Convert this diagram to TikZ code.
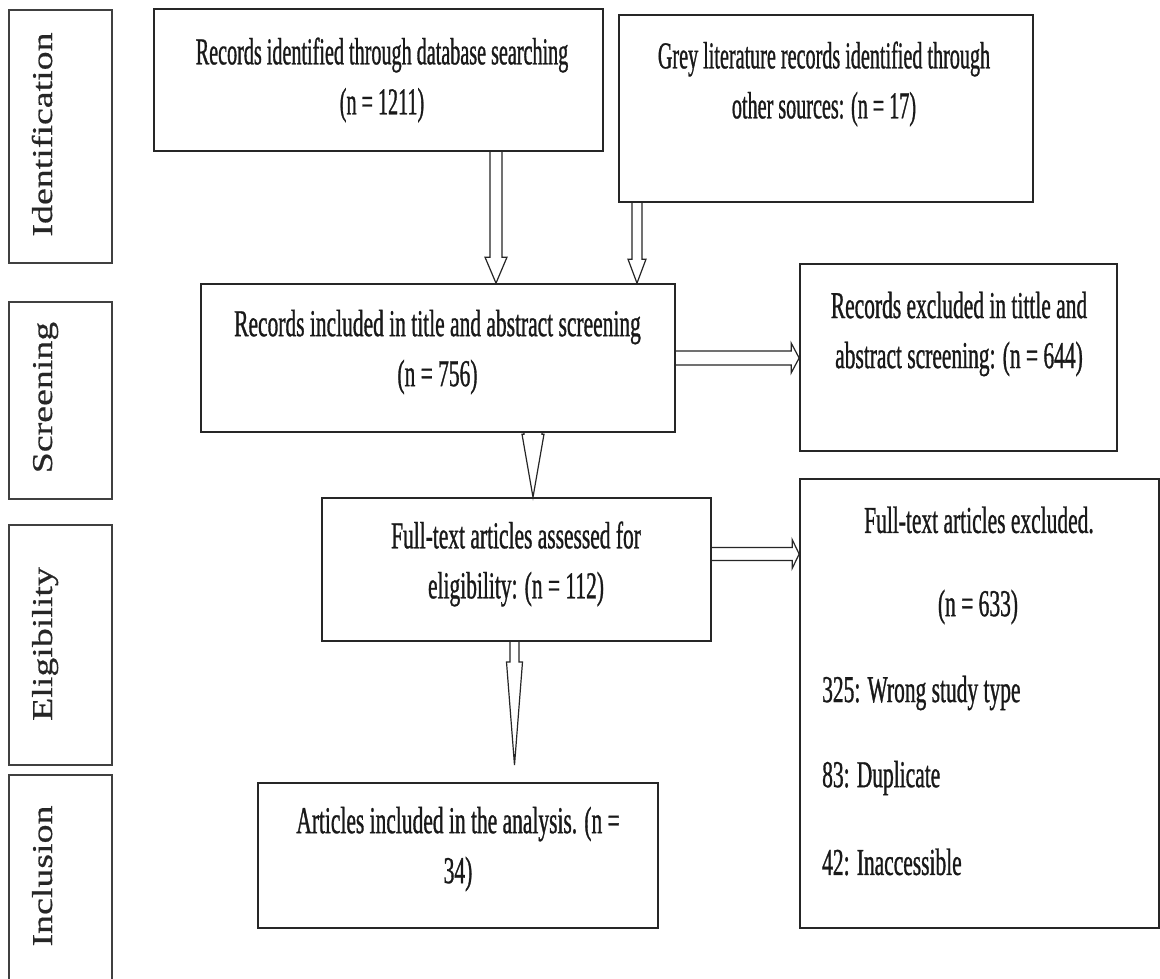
\documentclass[tikz,border=0pt]{standalone}
\usepackage{fontspec}
\setmainfont{Liberation Serif}
\newfontfamily\boxfont{Liberation Serif}[FakeStretch=0.565, FakeBold=0.8]
\newfontfamily\narrowfont{Liberation Serif}[FakeStretch=0.53, FakeBold=0.8]
\newfontfamily\phasefont{Liberation Serif}[FakeStretch=1.32, FakeBold=0.6]
\usetikzlibrary{calc}

\tikzset{
  box/.style={draw=black!85, line width=1.7pt, inner sep=0pt},
  boxtext/.style={align=center, inner sep=0pt, text=black!90,
    font=\boxfont\fontsize{38}{50}\selectfont},
  narrowtext/.style={boxtext, font=\narrowfont\fontsize{38}{50}\selectfont},
  listtext/.style={anchor=west, inner sep=0pt, text=black!90,
    font=\boxfont\fontsize{38}{50}\selectfont},
  phasebox/.style={draw=black!75, line width=1.7pt, inner sep=0pt, minimum width=103pt},
  phasetext/.style={rotate=90, anchor=base, inner sep=0pt, text=black!85,
    font=\phasefont\fontsize{28.7}{34}\selectfont},
  hollow/.style={draw=black!85, line width=1.2pt, line join=miter},
}

% downward block arrow: x, from, to, shaft half width, head half width, head length
\newcommand\blockdown[6]{%
  \draw[hollow] let \p1=(#2), \p2=(#3) in
    (#1pt-#4pt,\y1) -- (#1pt-#4pt,\y2+#6pt) -- (#1pt-#5pt,\y2+#6pt) -- (#1pt,\y2)
    -- (#1pt+#5pt,\y2+#6pt) -- (#1pt+#4pt,\y2+#6pt) -- (#1pt+#4pt,\y1);}

% rightward block arrow: y, from, to, shaft half width, head half width, head length
\newcommand\blockright[6]{%
  \draw[hollow] let \p1=(#2), \p2=(#3) in
    (\x1,-#1pt+#4pt) -- (\x2-#6pt,-#1pt+#4pt) -- (\x2-#6pt,-#1pt+#5pt) -- (\x2,-#1pt)
    -- (\x2-#6pt,-#1pt-#5pt) -- (\x2-#6pt,-#1pt-#4pt) -- (\x1,-#1pt-#4pt);}

\begin{document}
\begin{tikzpicture}[x=1pt, y=-1pt]
\fill[white] (0,0) rectangle (1160,978);
\useasboundingbox (0,0) rectangle (1160,978);
\clip (0,0) rectangle (1160,978);

% phase column
\node[phasebox, minimum height=253pt] (phId) at (60.5,136.5) {};
\node[phasebox, minimum height=197pt] (phSc) at (60.5,400.5) {};
\node[phasebox, minimum height=240pt] (phEl) at (60.5,645) {};
\node[phasebox, minimum height=215pt] (phIn) at (60.5,882.5) {};
\node[phasetext] (phIdText) at (52,134.5) {Identification};
\node[phasetext] (phScText) at (52,397.5) {Screening};
\node[phasetext] (phElText) at (52,644) {Eligibility};
\node[phasetext] (phInText) at (52,876) {Inclusion};

% flow boxes
\node[box, minimum width=449pt, minimum height=142pt] (db) at (378.5,80) {};
\node[box, minimum width=414pt, minimum height=187pt] (grey) at (826,108.5) {};
\node[box, minimum width=474pt, minimum height=148pt] (scr) at (438,358) {};
\node[box, minimum width=317pt, minimum height=187pt] (exA) at (958.5,357.5) {};
\node[box, minimum width=389pt, minimum height=143pt] (ft) at (516.5,569.5) {};
\node[box, minimum width=359pt, minimum height=449pt] (exB) at (979.5,703.5) {};
\node[box, minimum width=400pt, minimum height=145pt] (art) at (458,855.5) {};

% box texts
\node[narrowtext] (dbText) at (382,80) {Records identified through database searching\\(n = 1211)};
\node[narrowtext] (greyText) at (824,84) {Grey literature records identified through\\other sources: (n = 17)};
\node[boxtext] (scrText) at (437.5,352) {Records included in title and abstract screening\\(n = 756)};
\node[boxtext] (exAText) at (959,334) {Records excluded in tittle and\\abstract screening: (n = 644)};
\node[boxtext] (ftText) at (516,564) {Full-text articles assessed for\\eligibility: (n = 112)};
\node[boxtext] (artText) at (458,849) {Articles included in the analysis. (n =\\34)};
\node[boxtext] (exBTitle) at (979,520) {Full-text articles excluded.};
\node[boxtext] (exBCount) at (978,607) {(n = 633)};
\node[listtext] (exBWrong) at (822,693) {325: Wrong study type};
\node[listtext] (exBDup) at (822,778) {83: Duplicate};
\node[listtext] (exBInacc) at (822,862) {42: Inaccessible};

% connectors
\coordinate (artTip) at (514.5,765);
\blockdown{496}{db.south}{scr.north}{6}{11}{26}
\blockdown{637}{grey.south}{scr.north}{5}{9}{24}
\blockdown{533}{scr.south}{ft.north}{9}{11}{63}
\blockdown{514.5}{ft.south}{artTip}{4.5}{8}{103}
\blockright{358}{scr.east}{exA.west}{7}{15}{8}
\blockright{554}{ft.east}{exB.west}{6.5}{14.5}{7}
\end{tikzpicture}
\end{document}
